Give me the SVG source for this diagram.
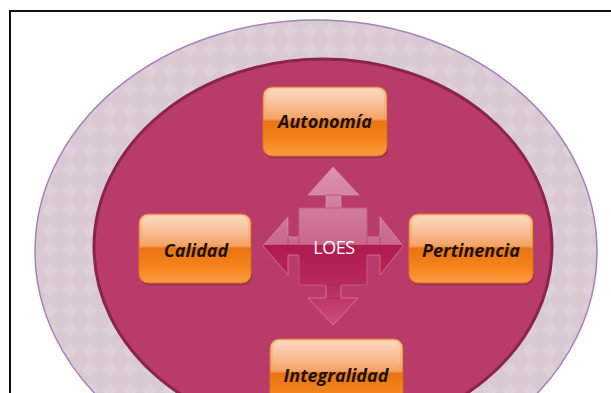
<svg xmlns="http://www.w3.org/2000/svg" width="611" height="393" viewBox="0 0 611 393">
<defs>
<style>
.lbl{font-family:"Open Sans","Liberation Sans",sans-serif;font-weight:bold;font-style:italic;font-size:18px;fill:#1a1208;text-anchor:middle}
.box{fill:url(#og);stroke:#d9742a;stroke-width:1}
.shadow{fill:#7a2a30;opacity:0.55}
.gloss{fill:url(#gl)}
</style>
<linearGradient id="og" x1="0" y1="0" x2="0" y2="1">
<stop offset="0" stop-color="#fbc4a0"/>
<stop offset="0.46" stop-color="#f5a468"/>
<stop offset="0.5" stop-color="#ea7412"/>
<stop offset="0.75" stop-color="#f4821a"/>
<stop offset="1" stop-color="#fb9b40"/>
</linearGradient>
<linearGradient id="gl" x1="0" y1="0" x2="0" y2="1">
<stop offset="0" stop-color="#ffffff" stop-opacity="0.35"/>
<stop offset="1" stop-color="#ffffff" stop-opacity="0"/>
</linearGradient>
<linearGradient id="ag" x1="0" y1="167" x2="0" y2="325" gradientUnits="userSpaceOnUse">
<stop offset="0" stop-color="#dc93ae"/>
<stop offset="0.49" stop-color="#c8678c"/>
<stop offset="0.495" stop-color="#b01a4f"/>
<stop offset="0.75" stop-color="#b82a5c"/>
<stop offset="1" stop-color="#cc4f80"/>
</linearGradient>
<pattern id="dia" width="20" height="20" patternUnits="userSpaceOnUse">
<rect width="20" height="20" fill="#d8c9d3"/>
<path d="M10 2 L18 10 L10 18 L2 10 Z" fill="#ddd0d9"/>
</pattern>
</defs>
<rect x="0" y="0" width="611" height="393" fill="#ffffff"/>
<rect x="10" y="11" width="620" height="420" fill="none" stroke="#111111" stroke-width="2"/>
<g id="ring">
<ellipse cx="316" cy="251" rx="281" ry="231" fill="url(#dia)" stroke="#a681bd" stroke-width="1.5"/>
</g>
<g id="inner">
<ellipse cx="323" cy="247" rx="229" ry="188" fill="#b93b69" stroke="#8a2350" stroke-width="3"/>
</g>
<g id="connectors">
<path d="M333 167 L359 195 L341 195 L341 208 L367 208 L367 237 L380 237 L380 217 L403 246 L380 275 L380 255 L367 255 L367 285 L341 285 L341 298 L358 298 L333 325 L308 298 L326 298 L326 285 L299 285 L299 255 L288 255 L288 275 L263 246 L288 217 L288 237 L299 237 L299 208 L326 208 L326 195 L308 195 Z" fill="url(#ag)" stroke="#e7a6bf" stroke-opacity="0.5" stroke-width="1"/>
<path d="M299 208 L367 208 L367 285 L299 285 Z M326 195 L341 195 M326 298 L341 298 M288 237 L288 255 M380 237 L380 255" fill="none" stroke="#a3234f" stroke-opacity="0.45" stroke-width="1"/>
</g>
<g id="loes">
<text x="334" y="254" font-family="Open Sans, Liberation Sans, sans-serif" font-size="18" letter-spacing="-0.5" fill="#ffffff" text-anchor="middle">LOES</text>
</g>
<g id="autonomia">
<rect class="shadow" x="264" y="89" width="124" height="69" rx="9"/>
<rect class="box" x="263" y="87" width="124" height="69" rx="9"/>
<rect class="gloss" x="266" y="89" width="118" height="28" rx="7"/>
<text class="lbl" x="325" y="128">Autonomía</text>
</g>
<g id="calidad">
<rect class="shadow" x="140" y="216" width="112" height="69" rx="9"/>
<rect class="box" x="139" y="214" width="112" height="69" rx="9"/>
<rect class="gloss" x="142" y="216" width="106" height="28" rx="7"/>
<text class="lbl" x="196" y="257">Calidad</text>
</g>
<g id="pertinencia">
<rect class="shadow" x="410" y="216" width="124" height="69" rx="9"/>
<rect class="box" x="409" y="214" width="124" height="69" rx="9"/>
<rect class="gloss" x="412" y="216" width="118" height="28" rx="7"/>
<text class="lbl" x="471" y="257">Pertinencia</text>
</g>
<g id="integralidad">
<rect class="shadow" x="271" y="341" width="133" height="69" rx="9"/>
<rect class="box" x="270" y="339" width="133" height="69" rx="9"/>
<rect class="gloss" x="273" y="341" width="127" height="28" rx="7"/>
<text class="lbl" x="336" y="382">Integralidad</text>
</g>
</svg>
